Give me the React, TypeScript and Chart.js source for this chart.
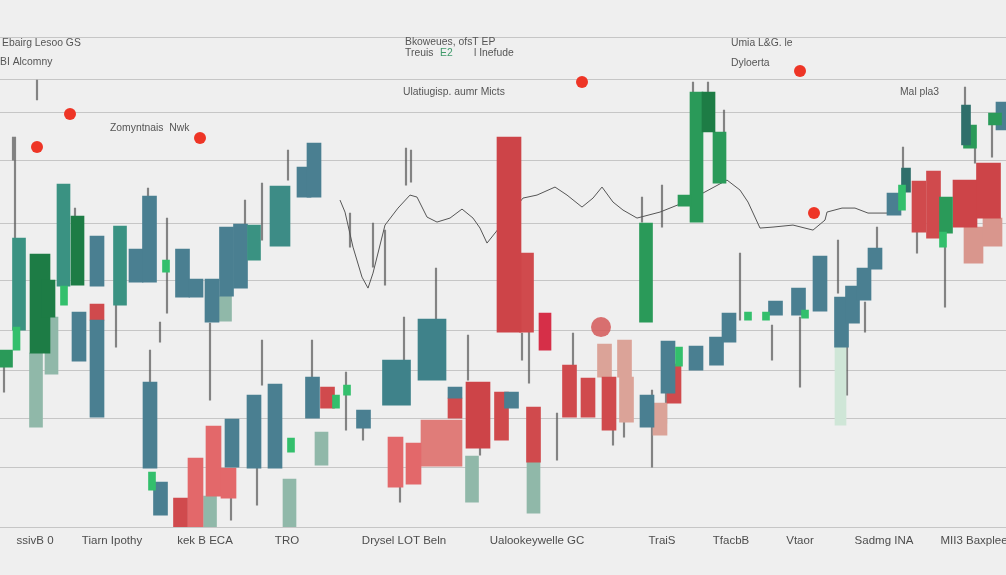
import React, { useEffect, useRef } from "react";
import { Chart, registerables } from "chart.js";

Chart.register(...registerables);

// ---- axis labels / ticks ----
const xTickPositions = [3.5, 11.2, 20.5, 28.7, 40.4, 53.7, 66.2, 73.1, 80.0, 88.4, 97.4];
const xTickLabels = [
  "ssivB 0",
  "Tiarn Ipothy",
  "kek B ECA",
  "TRO",
  "Drysel LOT Beln",
  "Ualookeywelle GC",
  "TraiS",
  "TfacbB",
  "Vtaor",
  "Sadmg INA",
  "MII3 Baxplee",
];
const gridLevels = [0, 12, 21.8, 31.4, 39.4, 49.4, 60.8, 73.4, 83, 89.6, 98];

// ---- candle bodies: [time, top, bottom] ----
const darkGreenBodies = [
  [4.85, 49.4, 42],
  [7.75, 62.2, 48.4],
  [70.85, 87, 79],
];
const darkGreenWide = [[4.0, 54.6, 34.8]];
const greenBodies = [
  [0.6, 35.4, 32],
  [69.65, 87, 61],
  [71.95, 79, 68.8],
  [64.6, 60.8, 41],
  [68.45, 66.4, 64.2],
  [94.6, 66, 58.8],
  [97.0, 80.4, 75.8],
  [99.5, 82.8, 80.4],
];
const limeBodies = [
  [1.65, 40, 35.4],
  [16.6, 53.4, 51],
  [15.2, 11, 7.4],
  [29.1, 17.8, 15],
  [33.6, 26.4, 23.8],
  [67.9, 36, 32.2],
  [74.8, 43, 41.4],
  [76.6, 43, 41.4],
  [94.3, 59, 56],
  [6.4, 48.2, 44.4],
  [34.7, 28.4, 26.4],
  [80.5, 43.4, 41.8],
  [90.2, 68.4, 63.4],
];
const tealBodies = [
  [1.9, 57.8, 39.4],
  [6.35, 68.6, 48.2],
  [12.0, 60.2, 44.4],
  [25.4, 60.4, 53.4],
];
const tealWide = [[28.0, 68.2, 56.2]];
const darkTealBodies = [
  [96.6, 84.4, 76.4],
  [90.6, 71.8, 67],
];
const blueBodies = [
  [7.9, 43, 33.2],
  [9.7, 58.2, 48.2],
  [9.7, 41.4, 22],
  [13.6, 55.6, 49],
  [14.95, 66.2, 49],
  [18.25, 55.6, 46],
  [19.6, 49.6, 46],
  [21.2, 49.6, 41],
  [22.65, 60, 46.2],
  [24.05, 60.6, 47.8],
  [30.4, 72, 66],
  [31.4, 76.8, 66],
  [15.0, 29, 11.8],
  [23.2, 21.6, 12],
  [25.4, 26.4, 11.8],
  [27.5, 28.6, 11.8],
  [31.25, 30, 21.8],
  [36.35, 23.4, 19.8],
  [45.5, 28, 25.8],
  [51.15, 27, 23.8],
  [64.7, 26.4, 20],
  [66.8, 37.2, 26.8],
  [69.6, 36.2, 31.4],
  [71.65, 38, 32.4],
  [72.9, 42.8, 37],
  [77.55, 45.2, 42.4],
  [79.85, 47.8, 42.4],
  [82.0, 54.2, 43.2],
  [84.15, 46, 36],
  [85.25, 48.2, 40.8],
  [86.4, 51.8, 45.4],
  [87.5, 55.8, 51.6],
  [89.4, 66.8, 62.4],
  [100.3, 85, 79.4],
  [16.05, 9, 2.4],
];
const blueWide = [
  [39.65, 33.4, 24.4],
  [43.2, 41.6, 29.4],
];
const paleBodies = [
  [3.6, 34.8, 20],
  [5.15, 42, 30.6],
  [22.5, 46.2, 41.2],
  [21.0, 6.2, 0],
  [28.95, 9.6, 0],
  [32.15, 19, 12.4],
  [47.2, 14.2, 5],
  [53.35, 13, 2.8],
];
const paleGreenBodies = [[84.05, 36, 20.4]];
const redBodies = [
  [9.7, 44.6, 41.4],
  [18.05, 5.8, 0],
  [32.75, 28, 23.8],
  [45.5, 25.8, 21.8],
  [50.15, 27, 17.4],
  [53.35, 24, 13],
  [52.65, 54.8, 39],
  [56.95, 32.4, 22],
  [58.8, 29.8, 22],
  [60.9, 30, 19.4],
  [67.4, 32.6, 24.8],
  [91.9, 69.2, 59],
  [93.35, 71.2, 57.8],
];
const redWide = [
  [50.9, 78, 39],
  [47.8, 29, 15.8],
  [96.5, 69.4, 60],
  [98.85, 72.8, 61.8],
];
const pinkRedBodies = [
  [19.55, 13.8, 0],
  [21.35, 20.2, 6.2],
  [22.85, 11.8, 5.8],
  [39.55, 18, 8],
  [41.35, 16.8, 8.6],
];
const pinkRedWide = [[44.15, 21.4, 12.2]];
const crimsonBodies = [[54.5, 42.8, 35.4]];
const pinkBodies = [
  [60.45, 36.6, 30],
  [62.45, 37.4, 30],
  [62.65, 30, 21],
  [66.0, 24.8, 18.4],
];
const pinkWide = [
  [97.35, 60, 52.8],
  [99.25, 61.8, 56.2],
];

// ---- wicks: [time, low, high] ----
const wicks = [
  [1.5, 45.4, 78], [3.7, 85.4, 89.4], [0.4, 27, 33.4], [1.3, 73.4, 78],
  [7.5, 62.2, 63.8], [11.6, 36, 44.4], [14.8, 66.2, 67.8], [16.7, 42.8, 61.8],
  [16.0, 37, 41], [21.0, 25.4, 40.8], [24.5, 52, 65.4], [26.2, 57.4, 68.8],
  [28.8, 69.4, 75.4], [26.2, 28.4, 37.4], [15.0, 29, 35.4], [31.2, 30, 37.4],
  [23.1, 1.4, 6.2], [25.7, 4.4, 11.8], [34.6, 19.4, 31], [36.3, 17.4, 22.8],
  [40.4, 33.4, 42], [43.6, 41.6, 51.8], [46.8, 29.4, 38.4], [52.2, 33.4, 38.8],
  [52.9, 28.8, 43.4], [57.3, 32.4, 38.8], [55.7, 13.4, 22.8], [65.2, 12, 27.4],
  [40.0, 5, 8], [35.0, 56, 62.8], [37.3, 52, 60.8], [38.5, 48.4, 59.4],
  [40.6, 68.4, 75.8], [41.1, 69, 75.4], [64.2, 61, 66], [66.2, 60, 68.4],
  [69.3, 87, 89], [70.8, 87, 89], [72.4, 78.8, 83.4], [74.0, 41.4, 54.8],
  [77.2, 33.4, 40.4], [80.0, 28, 42], [83.8, 46.8, 57.4], [84.7, 26.4, 36],
  [86.5, 39, 45], [87.7, 55.8, 60], [90.3, 66.8, 76], [91.7, 54.8, 59],
  [94.5, 44, 56], [96.5, 84.4, 88], [97.5, 72.8, 77.4], [99.2, 74, 82],
  [66.6, 20.8, 26.8], [61.3, 16.4, 19.4], [62.4, 18, 21], [48.0, 14.4, 15.8],
];

// ---- trend line ----
const trendX = [
  34, 34.5, 35.3, 36.2, 36.8, 37.3, 38.5, 39.8, 41.0, 41.7, 42.7, 43.7, 45.0, 46.2,
  47.3, 48.0, 48.7, 52.3, 53.7, 55.5, 56.7, 58.2, 59.3, 60.2, 61.3, 62.3, 63.7, 66.0,
  69.0, 72.7, 74.0, 74.8, 76.0, 77.3, 79.3, 81.3, 82.5, 82.7, 84.2, 85.5, 86.8, 88.7,
];
const trendY = [
  65.4, 63, 56, 50, 47.8, 50.8, 60.4, 63.8, 66.4, 66, 62, 61, 61.8, 63.6,
  61.8, 59.8, 56.8, 65.8, 66.4, 68, 66.4, 64, 65.8, 68, 65, 63.4, 61.8, 63,
  65.4, 69.4, 67.4, 65, 59.8, 60, 60.4, 59.4, 61.4, 63, 63.8, 63.8, 62.8, 62.8,
];

// ---- markers ----
const dotX = [3.7, 7.0, 20.0, 58.2, 80.0, 81.4];
const dotY = [76, 82.6, 77.8, 89, 91.2, 62.8];
const bigDotX = [60.1];
const bigDotY = [40];

// ---- annotations ----
const noteTexts = [
  "Ebairg Lesoo GS",
  "BI Alcomny",
  "Zomyntnais  Nwk",
  "Bkoweues, ofsT EP",
  "Treuis",
  "E2",
  "l Inefude",
  "Ulatiugisp. aumr Micts",
  "Umia L&G. le",
  "Dyloerta",
  "Mal pla3",
];
const noteX = [0.2, 0.0, 11.0, 40.5, 40.5, 44.0, 47.4, 40.3, 73.1, 73.1, 90.0];
const noteY = [96.8, 93, 79.8, 97, 94.8, 94.8, 94.8, 87, 96.8, 92.8, 87];

const FONT = '"Liberation Sans", Arial, sans-serif';

const toBars = (rows: number[][]) => rows.map(([x, a, b]) => ({ x, y: [a, b] }));

export default function App() {
  const ref = useRef<HTMLCanvasElement | null>(null);

  useEffect(() => {
    document.body.style.margin = "0";
    document.body.style.background = "#efefef";
    if (!ref.current) return;

    const bar = (rows: number[][], color: string, thickness: number, order: number) => ({
      type: "bar" as const,
      data: toBars(rows) as any,
      backgroundColor: color,
      barThickness: thickness,
      grouped: false,
      borderWidth: 0,
      order,
    });

    const notesPlugin = {
      id: "notes",
      afterDatasetsDraw(chart: any) {
        const { ctx, scales } = chart;
        ctx.save();
        ctx.textBaseline = "middle";
        ctx.textAlign = "left";
        noteTexts.forEach((t, i) => {
          ctx.font = `11.5px ${FONT}`;
          ctx.fillStyle = t === "E2" ? "#3f9a6a" : "#555555";
          const w = ctx.measureText(t).width;
          ctx.fillText(t, scales.x.getPixelForValue(noteX[i]), scales.y.getPixelForValue(noteY[i]), w * 0.9);
        });
        ctx.restore();
      },
    };

    const chart = new Chart(ref.current, {
      type: "bar",
      data: {
        datasets: [
          bar(wicks, "rgba(85,85,85,0.7)", 1.5, 30),
          {
            type: "line",
            data: trendX.map((x, i) => ({ x, y: trendY[i] })),
            borderColor: "#555555",
            borderWidth: 1,
            pointRadius: 0,
            tension: 0,
            order: 25,
          } as any,
          bar(paleGreenBodies, "#cfe6d7", 11, 22),
          bar(paleBodies, "#90b8a9", 13, 20),
          bar(darkGreenWide, "#1d7c45", 20, 12),
          bar(darkGreenBodies, "#1d7c45", 13, 10),
          bar(greenBodies, "#2a9a59", 13, 10),
          bar(tealWide, "#3d8c86", 20, 11),
          bar(tealBodies, "#3a9282", 13, 10),
          bar(darkTealBodies, "#2f6f6b", 9, 9),
          bar(blueWide, "#3f828a", 28, 11),
          bar(blueBodies, "#4a7f91", 14, 10),
          bar(redWide, "#cd4448", 24, 10),
          bar(redBodies, "#d04a4d", 14, 10),
          bar(pinkRedWide, "#e07c79", 41, 12),
          bar(pinkRedBodies, "#e3686a", 15, 10),
          bar(crimsonBodies, "#d62f48", 12, 9),
          bar(pinkBodies, "#dba398", 14, 10),
          bar(pinkWide, "#d9968d", 19, 11),
          bar(limeBodies, "#33bf6c", 7, 5),
          {
            type: "line",
            data: bigDotX.map((x, i) => ({ x, y: bigDotY[i] })),
            showLine: false,
            pointRadius: 10,
            pointBackgroundColor: "rgba(212,88,88,0.85)",
            pointBorderWidth: 0,
            order: 2,
          } as any,
          {
            type: "line",
            data: dotX.map((x, i) => ({ x, y: dotY[i] })),
            showLine: false,
            pointRadius: 6,
            pointBackgroundColor: "#ee3526",
            pointBorderWidth: 0,
            order: 1,
          } as any,
        ],
      },
      options: {
        responsive: false,
        animation: false,
        layout: { autoPadding: false, padding: { top: 37, bottom: 20, left: 0, right: 0 } },
        plugins: {
          legend: { display: false },
          tooltip: { enabled: false },
        },
        scales: {
          x: {
            type: "linear",
            min: 0,
            max: 100.6,
            offset: false,
            grid: { display: false, drawTicks: false },
            border: { display: false },
            ticks: {
              autoSkip: false,
              maxRotation: 0,
              padding: 7,
              color: "#4d4d4d",
              font: { family: FONT, size: 11.5 },
              callback: (_v: any, i: number) => xTickLabels[i],
            },
            afterBuildTicks: (scale: any) => {
              scale.ticks = xTickPositions.map((v) => ({ value: v }));
            },
            afterFit: (scale: any) => {
              scale.paddingLeft = 0;
              scale.paddingRight = 0;
            },
          },
          y: {
            type: "linear",
            min: 0,
            max: 98,
            grid: { color: "rgba(0,0,0,0.17)", lineWidth: 1, drawTicks: false },
            border: { display: false },
            ticks: { display: false },
            afterBuildTicks: (scale: any) => {
              scale.ticks = gridLevels.map((v) => ({ value: v }));
            },
          },
        },
      } as any,
      plugins: [notesPlugin],
    });

    return () => chart.destroy();
  }, []);

  return (
    <div style={{ position: "absolute", left: 0, top: 0, width: 1006, height: 575, background: "#efefef" }}>
      <canvas ref={ref} width={1006} height={575} style={{ display: "block" }} />
    </div>
  );
}
